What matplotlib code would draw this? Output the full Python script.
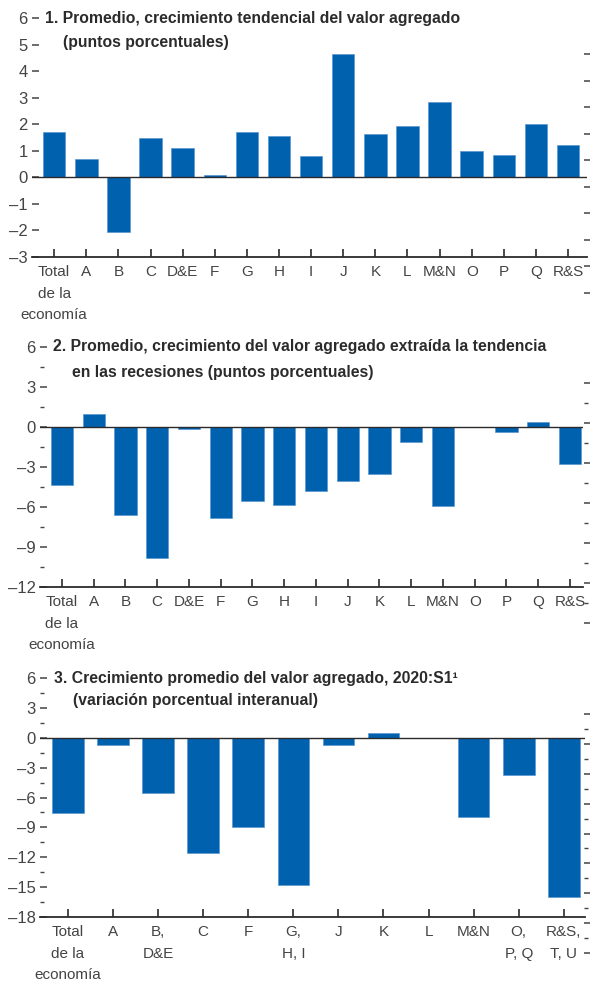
import matplotlib
matplotlib.use('Agg')
import matplotlib.pyplot as plt
from matplotlib.ticker import FuncFormatter, MultipleLocator

plt.rcParams['font.family'] = ['Liberation Sans', 'DejaVu Sans']

BLUE = '#0061af'
DARK = '#2b2b2b'
GREY = '#444444'

# panel 1 / 2 categories
cats_a = ['Total\nde la\neconomía', 'A', 'B', 'C', 'D&E', 'F', 'G', 'H', 'I', 'J',
          'K', 'L', 'M&N', 'O', 'P', 'Q', 'R&S']
trend_growth = [1.7, 0.7, -2.05, 1.5, 1.1, 0.1, 1.7, 1.55, 0.8, 4.65,
                1.65, 1.95, 2.85, 1.0, 0.85, 2.0, 1.2]
recession_growth = [-4.35, 1.0, -6.6, -9.8, -0.15, -6.8, -5.55, -5.85, -4.8, -4.05,
                    -3.5, -1.15, -5.95, 0.0, -0.38, 0.38, -2.75]

# panel 3 categories
cats_b = ['Total\nde la\neconomía', 'A', 'B,\nD&E', 'C', 'F', 'G,\nH, I', 'J', 'K',
          'L', 'M&N', 'O,\nP, Q', 'R&S,\nT, U']
growth_2020 = [-7.55, -0.77, -5.5, -11.6, -8.95, -14.75, -0.77, 0.5,
               0.0, -7.95, -3.7, -16.0]

W, H = 590, 981
LAB_FS = 11
LINE_PT = 15.0   # gap between label lines, points
PAD_PT = 6


def dash_fmt(v, p):
    return '{:g}'.format(v).replace('-', '\u2013')


def px_rect(x0, y0, x1, y1):
    # pixel box (top-left origin) -> figure fraction rect
    return [x0 / W, 1 - y1 / H, (x1 - x0) / W, (y1 - y0) / H]


def panel(fig, box, cats, vals, ylim, major, minor, xlim, titles):
    ax = fig.add_axes(px_rect(*box))
    x = list(range(len(cats)))
    ax.bar(x, vals, width=0.7, color=BLUE, edgecolor='#4d8fd0', linewidth=0.4, zorder=2)
    ax.axhline(0, color=DARK, lw=1.0, zorder=3)
    ax.set_xlim(*xlim)
    ax.set_ylim(*ylim)
    for s in ['top', 'right', 'left']:
        ax.spines[s].set_visible(False)
    ax.spines['bottom'].set_color(DARK)
    ax.spines['bottom'].set_linewidth(1.3)

    # first line of each label as tick label, further lines below it
    ax.set_xticks(x)
    ax.set_xticklabels([c.split('\n')[0] for c in cats], fontsize=LAB_FS, color=GREY)
    ax.tick_params(axis='x', direction='in', length=6, width=1.2, color=DARK, pad=PAD_PT)
    for i, c in enumerate(cats):
        parts = c.split('\n')
        for k, line in enumerate(parts[1:], start=1):
            ax.annotate(line, xy=(i, 0), xycoords=('data', 'axes fraction'),
                        xytext=(0, -(PAD_PT + 0.5 + k * LINE_PT)), textcoords='offset points',
                        ha='center', va='top', fontsize=LAB_FS, color=GREY)

    ax.yaxis.set_major_locator(MultipleLocator(major))
    ax.yaxis.set_major_formatter(FuncFormatter(dash_fmt))
    if minor:
        ax.yaxis.set_minor_locator(MultipleLocator(minor))
        ax.tick_params(axis='y', which='minor', direction='in', length=3, width=1, color=GREY)
    ax.tick_params(axis='y', which='major', direction='in', length=5, width=1.1,
                   color=GREY, labelsize=12, labelcolor=GREY, pad=3)
    for (tx, ty, txt) in titles:
        fig.text(tx / W, 1 - ty / H, txt, fontsize=11.3, fontweight='bold',
                 color=DARK, va='center', ha='left')

    # stray right-hand ticks, offset downwards as in the original
    gx = fig.add_axes(px_rect(583, box[1] + 36, 583.5, box[3] + 36))
    gx.patch.set_visible(False)
    for s in gx.spines.values():
        s.set_visible(False)
    gx.set_ylim(*ylim)
    gx.set_xticks([])
    gx.yaxis.tick_right()
    gx.yaxis.set_major_locator(MultipleLocator(major))
    gx.set_yticklabels([])
    gx.tick_params(axis='y', which='major', direction='out', length=5, width=1.1, color=GREY)
    if minor:
        gx.yaxis.set_minor_locator(MultipleLocator(minor))
        gx.tick_params(axis='y', which='minor', direction='out', length=3, width=1, color=GREY)
    return ax


fig = plt.figure(figsize=(W / 100, H / 100), dpi=100)

panel(fig, (32, 18, 587, 257), cats_a, trend_growth, (-3, 6), 1, None, (-0.69, 16.59),
      [(45, 18, '1. Promedio, crecimiento tendencial del valor agregado'),
       (63, 43, '(puntos porcentuales)')])

panel(fig, (40, 347, 583, 587), cats_a, recession_growth, (-12, 6), 3, 1.5, (-0.69, 16.41),
      [(53, 347, '2. Promedio, crecimiento del valor agregado extraída la tendencia'),
       (72, 372, 'en las recesiones (puntos porcentuales)')])

panel(fig, (40, 678, 585, 917), cats_b, growth_2020, (-18, 6), 3, 1.5, (-0.62, 11.47),
      [(54, 678, '3. Crecimiento promedio del valor agregado, 2020:S1\u00b9'),
       (73, 700, '(variación porcentual interanual)')])

fig.savefig('out.png', dpi=100)
